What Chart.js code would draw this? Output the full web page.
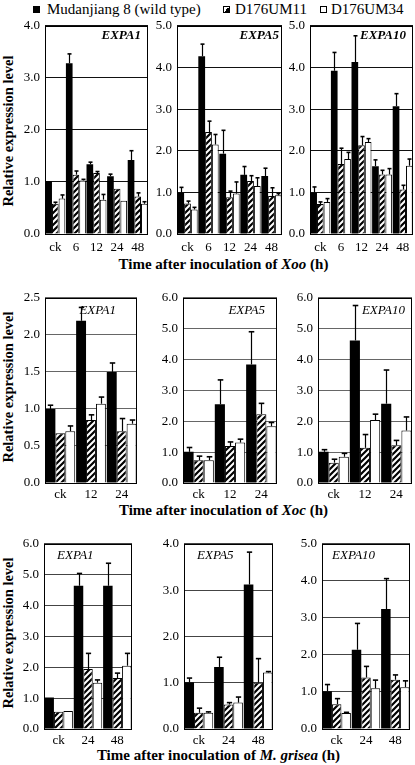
<!DOCTYPE html>
<html>
<head>
<meta charset="utf-8">
<script src="https://cdn.jsdelivr.net/npm/chart.js@4.4.1/dist/chart.umd.min.js"></script>
<style>
  html, body { margin: 0; padding: 0; background: #fff; }
  #page { position: relative; width: 415px; height: 765px; overflow: hidden; font-family: "Liberation Serif", "Times New Roman", serif; color: #000; }
  .cv { position: absolute; }
  .xt { position: absolute; width: 415px; left: 0; text-align: center; font-weight: bold; font-size: 15px; line-height: 16px; white-space: nowrap; }
  .yt { position: absolute; width: 200px; height: 16px; line-height: 16px; text-align: center; font-weight: bold; font-size: 14.5px; white-space: nowrap; transform: rotate(-90deg); }
  #legend { position: absolute; left: 0; top: 1px; width: 415px; height: 17px; font-size: 15px; line-height: 17px; white-space: nowrap; }
  #legend span.t { position: absolute; top: 0; }
  #legend span.k { position: absolute; top: 5px; width: 7px; height: 7px; box-sizing: border-box; }
</style>
</head>
<body>
<div id="page">
  <div id="legend">
    <span class="k" style="left:33px;background:#000;"></span><span class="t" style="left:47px;">Mudanjiang 8 (wild type)</span>
    <span class="k" style="left:223px;border:1px solid #000;background:linear-gradient(to bottom right,#fff 50%,#000 50%);"></span><span class="t" style="left:235px;">D176UM11</span>
    <span class="k" style="left:320px;border:1px solid #000;background:#fff;"></span><span class="t" style="left:331px;">D176UM34</span>
  </div>
  <div class="yt" style="left:-92px;top:123px;">Relative expression level</div>
  <div class="yt" style="left:-92px;top:379px;">Relative expression level</div>
  <div class="yt" style="left:-92px;top:625px;">Relative expression level</div>
  <div class="xt" style="top:256px;left:16px;">Time after inoculation of <i>Xoo</i> (h)</div>
  <div class="xt" style="top:502px;left:16px;">Time after inoculation of <i>Xoc</i> (h)</div>
  <div class="xt" style="top:747px;left:11px;">Time after inoculation of <i>M. grisea</i> (h)</div>
</div>
<script>
// ---------------- DATA ----------------
const seriesNames = ['Mudanjiang 8 (wild type)', 'D176UM11', 'D176UM34'];
const genes = ['EXPA1', 'EXPA5', 'EXPA10'];
const catsXoo = ['ck', '6', '12', '24', '48'];
const catsXoc = ['ck', '12', '24'];
const catsMg  = ['ck', '24', '48'];

// Xoo
const xooExpa1WT    = [1.02, 3.28, 1.34, 1.11, 1.42];
const xooExpa1WTErr = [0.00, 0.18, 0.04, 0.04, 0.18];
const xooExpa1M11    = [0.58, 1.14, 1.17, 0.87, 0.72];
const xooExpa1M11Err = [0.03, 0.07, 0.03, 0.00, 0.07];
const xooExpa1M34    = [0.68, 1.03, 0.66, 0.64, 0.58];
const xooExpa1M34Err = [0.07, 0.02, 0.10, 0.00, 0.04];

const xooExpa5WT    = [0.99, 4.27, 1.93, 1.42, 1.39];
const xooExpa5WTErr = [0.13, 0.29, 0.56, 0.20, 0.19];
const xooExpa5M11    = [0.73, 2.45, 0.88, 1.27, 0.91];
const xooExpa5M11Err = [0.06, 0.26, 0.15, 0.13, 0.20];
const xooExpa5M34    = [0.59, 2.15, 0.97, 1.15, 0.93];
const xooExpa5M34Err = [0.05, 0.24, 0.28, 0.20, 0.04];

const xooExpa10WT    = [0.99, 3.92, 4.13, 1.63, 3.07];
const xooExpa10WTErr = [0.14, 0.44, 0.63, 0.15, 0.30];
const xooExpa10M11    = [0.72, 1.68, 2.13, 1.43, 1.07];
const xooExpa10M11Err = [0.05, 0.38, 0.21, 0.10, 0.10];
const xooExpa10M34    = [0.77, 1.80, 2.21, 1.43, 1.64];
const xooExpa10M34Err = [0.08, 0.16, 0.08, 0.14, 0.16];

// Xoc
const xocExpa1WT    = [1.00, 2.19, 1.50];
const xocExpa1WTErr = [0.05, 0.18, 0.12];
const xocExpa1M11    = [0.67, 0.85, 0.70];
const xocExpa1M11Err = [0.00, 0.07, 0.17];
const xocExpa1M34    = [0.70, 1.07, 0.80];
const xocExpa1M34Err = [0.07, 0.09, 0.05];

const xocExpa5WT    = [1.01, 2.55, 3.84];
const xocExpa5WTErr = [0.14, 0.79, 1.06];
const xocExpa5M11    = [0.74, 1.20, 2.23];
const xocExpa5M11Err = [0.13, 0.13, 0.35];
const xocExpa5M34    = [0.74, 1.31, 1.84];
const xocExpa5M34Err = [0.11, 0.11, 0.12];

const xocExpa10WT    = [1.01, 4.62, 2.57];
const xocExpa10WTErr = [0.07, 1.13, 1.09];
const xocExpa10M11    = [0.66, 1.14, 1.22];
const xocExpa10M11Err = [0.11, 0.43, 0.16];
const xocExpa10M34    = [0.85, 2.04, 1.70];
const xocExpa10M34Err = [0.11, 0.19, 0.44];

// M. grisea
const mgExpa1WT    = [1.02, 4.64, 4.64];
const mgExpa1WTErr = [0.00, 0.40, 0.73];
const mgExpa1M11    = [0.56, 1.94, 1.65];
const mgExpa1M11Err = [0.00, 0.51, 0.16];
const mgExpa1M34    = [0.58, 1.50, 2.05];
const mgExpa1M34Err = [0.00, 0.09, 0.40];

const mgExpa5WT    = [1.01, 1.34, 3.12];
const mgExpa5WTErr = [0.09, 0.21, 0.70];
const mgExpa5M11    = [0.35, 0.53, 1.00];
const mgExpa5M11Err = [0.10, 0.04, 0.52];
const mgExpa5M34    = [0.35, 0.57, 1.22];
const mgExpa5M34Err = [0.02, 0.12, 0.02];

const mgExpa10WT    = [1.02, 2.14, 3.24];
const mgExpa10WTErr = [0.18, 0.71, 0.82];
const mgExpa10M11    = [0.67, 1.39, 1.33];
const mgExpa10M11Err = [0.15, 0.30, 0.13];
const mgExpa10M34    = [0.43, 1.10, 1.13];
const mgExpa10M34Err = [0.02, 0.22, 0.17];

// y-axis tick ranges
const yMaxXoo = [4, 5, 5];
const yMaxXoc = [2.5, 6, 6];
const yStepXoc = [0.5, 1, 1];
const yMaxMg = [6, 4, 5];

// ---------------- DRAWING ----------------
const FONT = '"Liberation Serif", "Times New Roman", serif';
Chart.defaults.font.family = FONT;
Chart.defaults.color = '#000';

function hatch() {
  const c = document.createElement('canvas');
  c.width = 6; c.height = 6;
  const g = c.getContext('2d');
  g.fillStyle = '#fff'; g.fillRect(0, 0, 6, 6);
  g.strokeStyle = '#000'; g.lineWidth = 2.2; g.lineCap = 'square';
  g.beginPath();
  g.moveTo(-1, 7); g.lineTo(7, -1);
  g.moveTo(-4, 4); g.lineTo(4, -4);
  g.moveTo(2, 10); g.lineTo(10, 2);
  g.stroke();
  return g.createPattern(c, 'repeat');
}

const panelPlugin = {
  id: 'panelDeco',
  afterDatasetsDraw(chart) {
    const ctx = chart.ctx;
    const ys = chart.scales.y;
    ctx.save();
    ctx.strokeStyle = '#000';
    chart.data.datasets.forEach((ds, i) => {
      const meta = chart.getDatasetMeta(i);
      meta.data.forEach((bar, j) => {
        const e = ds.err[j];
        if (!e) return;
        const x = Math.round(bar.x) + 0.5;
        const yTop = bar.y;
        const yE = ys.getPixelForValue(ds.data[j] + e);
        const w = Math.max(4, bar.width * 0.55);
        ctx.lineWidth = 1.2;
        ctx.beginPath(); ctx.moveTo(x, yTop); ctx.lineTo(x, yE); ctx.stroke();
        ctx.lineWidth = 1.6;
        ctx.beginPath(); ctx.moveTo(x - w / 2, yE); ctx.lineTo(x + w / 2, yE); ctx.stroke();
      });
    });
    ctx.restore();
  },
  afterDraw(chart) {
    const ctx = chart.ctx;
    const a = chart.chartArea;
    const o = chart.options.plugins.panelDeco;
    ctx.save();
    ctx.strokeStyle = '#000';
    ctx.lineWidth = 1;
    ctx.strokeRect(Math.round(a.left) + 0.5, Math.round(a.top) + 0.5,
                   Math.round(a.right - a.left) - 1, Math.round(a.bottom - a.top));
    ctx.fillStyle = '#000';
    ctx.font = (o.bold ? 'bold ' : '') + 'italic 13px ' + FONT;
    ctx.textBaseline = 'middle';
    if (o.align === 'right') {
      ctx.textAlign = 'right';
      ctx.fillText(o.gene, a.right - o.dx, a.top + o.dy);
    } else {
      ctx.textAlign = 'left';
      ctx.fillText(o.gene, a.left + o.dx, a.top + o.dy);
    }
    ctx.restore();
  }
};

const YW = 32, XH = 22, PT = 10, PR = 3;
function makePanel(box, cats, vals, errs, yMax, step, deco, gridColor, xPad) {
  const cv = document.createElement('canvas');
  const W = box.R - box.L + YW + PR;
  const H = box.B - box.T + PT + XH;
  cv.width = W; cv.height = H;
  cv.className = 'cv';
  cv.style.left = (box.L - YW) + 'px';
  cv.style.top = (box.T - PT) + 'px';
  cv.style.width = W + 'px'; cv.style.height = H + 'px';
  document.getElementById('page').appendChild(cv);
  const fills = ['#000', hatch(), '#fff'];
  const datasets = vals.map((v, i) => ({
    label: seriesNames[i],
    data: v,
    err: errs[i],
    backgroundColor: fills[i],
    borderColor: '#000',
    borderWidth: i === 0 ? 0 : 1,
    categoryPercentage: 0.97,
    barPercentage: 1.0
  }));
  new Chart(cv, {
    type: 'bar',
    data: { labels: cats, datasets },
    plugins: [panelPlugin],
    options: {
      responsive: false,
      animation: false,
      devicePixelRatio: 1,
      layout: { padding: { top: PT, right: PR, left: 0, bottom: 0 } },
      plugins: { legend: { display: false }, tooltip: { enabled: false }, panelDeco: deco },
      scales: {
        x: {
          grid: { display: false, drawTicks: false },
          border: { display: false },
          ticks: { color: '#000', font: { family: FONT, size: 13 }, padding: xPad, maxRotation: 0, autoSkip: false },
          afterFit(s) { s.height = XH; }
        },
        y: {
          min: 0, max: yMax,
          grid: { color: gridColor, lineWidth: 1, drawTicks: false },
          border: { display: false },
          ticks: { stepSize: step, color: '#000', font: { family: FONT, size: 13 }, padding: 5,
                   callback: v => Number(v).toFixed(1) },
          afterFit(s) { s.width = YW; }
        }
      }
    }
  });
}

const boldR = (g, dx, dy) => ({ gene: g, bold: true, align: 'right', dx, dy });
const italR = (g, dx, dy) => ({ gene: g, bold: false, align: 'right', dx, dy });
const italL = (g, dx, dy) => ({ gene: g, bold: false, align: 'left', dx, dy });

// Row 1: Xoo
makePanel({L:45, R:148, T:23, B:234}, catsXoo,
  [xooExpa1WT, xooExpa1M11, xooExpa1M34], [xooExpa1WTErr, xooExpa1M11Err, xooExpa1M34Err],
  yMaxXoo[0], 1, boldR(genes[0], 7, 10), '#111', 6);
makePanel({L:177, R:282, T:23, B:234}, catsXoo,
  [xooExpa5WT, xooExpa5M11, xooExpa5M34], [xooExpa5WTErr, xooExpa5M11Err, xooExpa5M34Err],
  yMaxXoo[1], 1, boldR(genes[1], 3, 10), '#111', 6);
makePanel({L:310, R:413, T:23, B:234}, catsXoo,
  [xooExpa10WT, xooExpa10M11, xooExpa10M34], [xooExpa10WTErr, xooExpa10M11Err, xooExpa10M34Err],
  yMaxXoo[2], 1, boldR(genes[2], 7, 10), '#111', 6);

// Row 2: Xoc
makePanel({L:45, R:137, T:295, B:483}, catsXoc,
  [xocExpa1WT, xocExpa1M11, xocExpa1M34], [xocExpa1WTErr, xocExpa1M11Err, xocExpa1M34Err],
  yMaxXoc[0], yStepXoc[0], italR(genes[0], 21, 13), '#666', 4);
makePanel({L:183, R:277, T:295, B:483}, catsXoc,
  [xocExpa5WT, xocExpa5M11, xocExpa5M34], [xocExpa5WTErr, xocExpa5M11Err, xocExpa5M34Err],
  yMaxXoc[1], yStepXoc[1], italR(genes[1], 12, 13), '#666', 4);
makePanel({L:318, R:412, T:295, B:483}, catsXoc,
  [xocExpa10WT, xocExpa10M11, xocExpa10M34], [xocExpa10WTErr, xocExpa10M11Err, xocExpa10M34Err],
  yMaxXoc[2], yStepXoc[2], italR(genes[2], 7, 13), '#666', 4);

// Row 3: M. grisea
makePanel({L:44, R:132, T:541, B:729}, catsMg,
  [mgExpa1WT, mgExpa1M11, mgExpa1M34], [mgExpa1WTErr, mgExpa1M11Err, mgExpa1M34Err],
  yMaxMg[0], 1, italL(genes[0], 13, 12), '#444', 4);
makePanel({L:184, R:273, T:541, B:729}, catsMg,
  [mgExpa5WT, mgExpa5M11, mgExpa5M34], [mgExpa5WTErr, mgExpa5M11Err, mgExpa5M34Err],
  yMaxMg[1], 1, italL(genes[1], 13, 12), '#444', 4);
makePanel({L:322, R:410, T:541, B:729}, catsMg,
  [mgExpa10WT, mgExpa10M11, mgExpa10M34], [mgExpa10WTErr, mgExpa10M11Err, mgExpa10M34Err],
  yMaxMg[2], 1, italL(genes[2], 10, 12), '#444', 4);
</script>
</body>
</html>
